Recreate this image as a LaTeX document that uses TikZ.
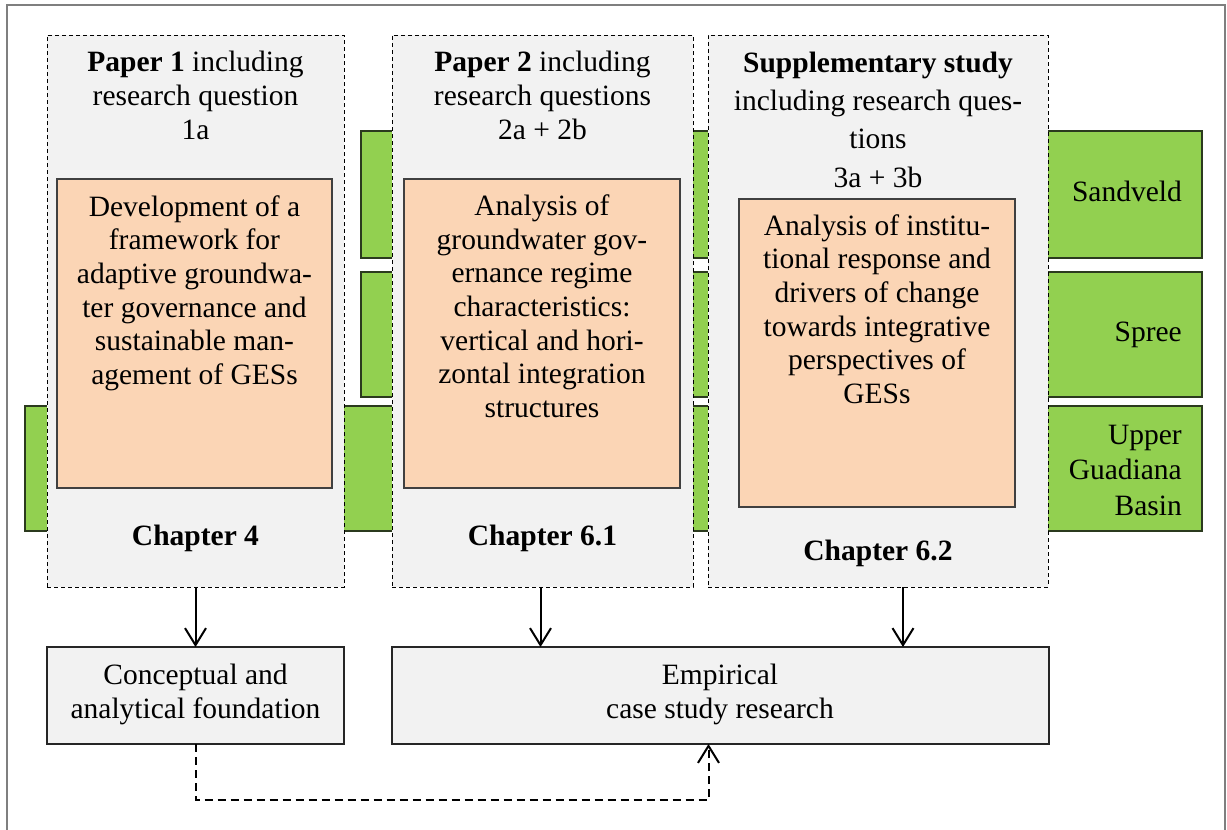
\documentclass[tikz,border=0pt]{standalone}
\usepackage{fontspec}
\setmainfont{Liberation Serif}
\usetikzlibrary{arrows.meta,calc}

\definecolor{panel}{HTML}{F2F2F2}
\definecolor{peach}{HTML}{FBD5B5}
\definecolor{leaf}{HTML}{92D050}
\definecolor{leafedge}{HTML}{2B3A1E}
\definecolor{peachedge}{HTML}{404040}
\definecolor{frameline}{HTML}{7F7F7F}

\tikzset{
  band/.style={draw=leafedge, fill=leaf, line width=1.2pt, anchor=north west,
    inner sep=0pt, outer sep=0pt},
  column/.style={draw=black, fill=panel, dash pattern=on 4pt off 3pt,
    line width=1pt, anchor=north west, inner sep=0pt, outer sep=0pt},
  topic/.style={draw=peachedge, fill=peach, line width=1.2pt, anchor=north west,
    inner sep=0pt, outer sep=0pt},
  result/.style={draw=black!85, fill=panel, line width=1.2pt, anchor=north west,
    inner sep=0pt, outer sep=0pt},
  % multi-line labels are placed by the baseline of their last line
  label/.style={font=\fontsize{29.5}{33.7}\selectfont, align=center,
    inner sep=0pt, anchor=base},
  place/.style={font=\fontsize{29.5}{35.8}\selectfont, align=right,
    inner sep=0pt, anchor=base east},
  flow/.style={line width=2pt, -{Straight Barb[length=17pt,width=21pt]}},
  link/.style={line width=2pt, dash pattern=on 8pt off 5pt,
    -{Straight Barb[length=17pt,width=21pt]}},
}

\begin{document}
\begin{tikzpicture}[x=1pt, y=-1pt]
  \useasboundingbox (0,0) rectangle (1227,830);

  % outer frame
  \draw[frameline, line width=1.2pt] (7,5) rectangle (1225,845);

  % case study bands
  \node[band, minimum width=841pt, minimum height=127pt] (sandveld) at (361,131) {};
  \node[band, minimum width=841pt, minimum height=125pt] (spree) at (361,272) {};
  \node[band, minimum width=1177pt, minimum height=125pt] (guadiana) at (25,406) {};

  % chapter columns
  \node[column, minimum width=297pt, minimum height=552pt] (c1) at (47,35) {};
  \node[column, minimum width=301pt, minimum height=552pt] (c2) at (392,35) {};
  \node[column, minimum width=340pt, minimum height=552pt] (c3) at (708,35) {};

  % research topics
  \node[topic, minimum width=275pt, minimum height=309pt] (o1) at (57,179) {};
  \node[topic, minimum width=276pt, minimum height=309pt] (o2) at (404,179) {};
  \node[topic, minimum width=276pt, minimum height=308pt] (o3) at (739,199) {};

  % research strands
  \node[result, minimum width=297pt, minimum height=97pt] (cf) at (47,647) {};
  \node[result, minimum width=657pt, minimum height=97pt] (emp) at (392,647) {};

  % headings
  \node[label] (h1) at (195.5,139) {\textbf{Paper 1} including\\research question\\1a};
  \node[label] (h2) at (542.5,139) {\textbf{Paper 2} including\\research questions\\2a + 2b};
  \node[label, font=\fontsize{29.5}{38.3}\selectfont] (h3) at (878,187)
    {\textbf{Supplementary study}\\including research ques-\\tions\\3a + 3b};

  % topic texts
  \node[label] (t1) at (194.5,384.5) {Development of a\\framework for\\adaptive groundwa-\\ter governance and\\sustainable man-\\agement of GESs};
  \node[label] (t2) at (542,417.5) {Analysis of\\groundwater gov-\\ernance regime\\characteristics:\\vertical and hori-\\zontal integration\\structures};
  \node[label] (t3) at (877,403.5) {Analysis of institu-\\tional response and\\drivers of change\\towards integrative\\perspectives of\\GESs};

  % chapters
  \node[label, font=\fontsize{29.5}{33.7}\selectfont\bfseries] (ch1) at (195.5,545) {Chapter 4};
  \node[label, font=\fontsize{29.5}{33.7}\selectfont\bfseries] (ch2) at (542.5,545) {Chapter 6.1};
  \node[label, font=\fontsize{29.5}{33.7}\selectfont\bfseries] (ch3) at (878,560) {Chapter 6.2};

  % case study names
  \node[place] (ls) at (1182,201.7) {Sandveld};
  \node[place] (lp) at (1182,341.7) {Spree};
  \node[place] (lg) at (1182,515.6) {Upper\\Guadiana\\Basin};

  % strand texts
  \node[label] (tcf) at (195.5,718.5) {Conceptual and\\analytical foundation};
  \node[label] (temp) at (720,718.5) {Empirical\\case study research};

  % connectors
  \draw[flow] (c1.south) -- (cf.north);
  \coordinate (a2) at ($(c2.south)+(-2,0)$);
  \draw[flow] (a2) -- (a2 |- emp.north);
  \coordinate (a3) at ($(c3.south)+(25,0)$);
  \draw[flow] (a3) -- (a3 |- emp.north);
  \coordinate (d1) at ($(cf.south)+(0,56)$);
  \coordinate (d2) at ($(emp.south)+(-12,0)$);
  \draw[link] (cf.south) -- (d1) -| (d2);
\end{tikzpicture}
\end{document}
